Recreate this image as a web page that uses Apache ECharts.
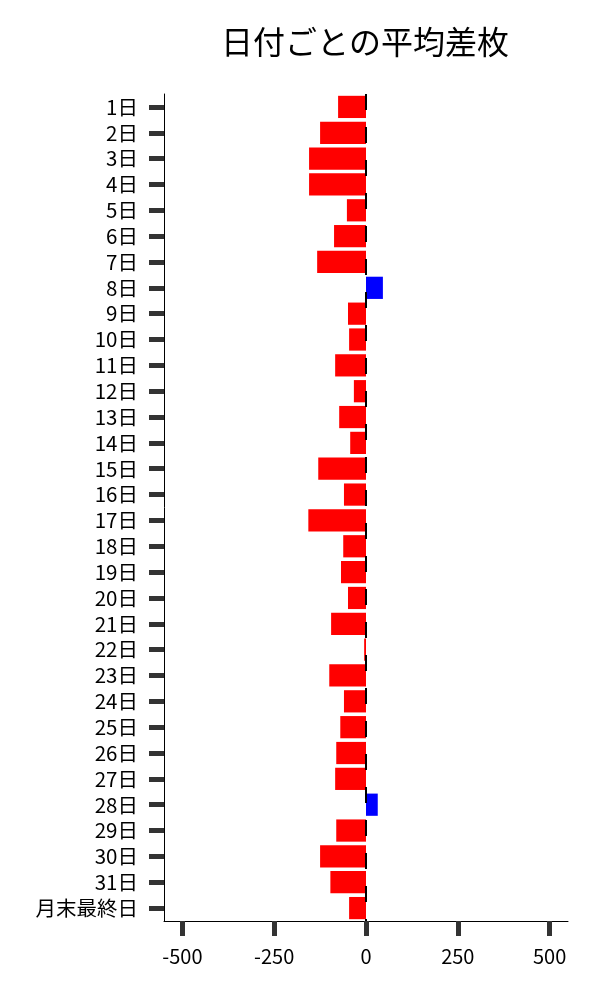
<!DOCTYPE html>
<html>
<head>
<meta charset="utf-8">
<script src="https://cdn.jsdelivr.net/npm/echarts@6/dist/echarts.min.js"></script>
<style>
html,body{margin:0;padding:0;background:#fff;}
#chart{width:600px;height:1000px;}
</style>
</head>
<body>
<div id="chart"></div>
<script>
const titleText = '日付ごとの平均差枚';
const categories = ['1日','2日','3日','4日','5日','6日','7日','8日','9日','10日','11日','12日','13日','14日','15日','16日','17日','18日','19日','20日','21日','22日','23日','24日','25日','26日','27日','28日','29日','30日','31日','月末最終日'];
const avgDiff = [-76,-125,-155,-155,-52,-87,-133,46,-49,-46,-84,-33,-73,-43,-130,-60,-157,-62,-68,-49,-95,-5,-100,-60,-70,-81,-84,32,-81,-125,-97,-46];
const xTicks = [-500,-250,0,250,500];

const FONT = '"Noto Sans CJK JP", "Noto Sans", sans-serif';
const chart = echarts.init(document.getElementById('chart'), null, {renderer:'canvas'});
chart.setOption({
  animation:false,
  backgroundColor:'#ffffff',
  title:{
    text:titleText, left:360, top:21, textAlign:'center',
    textStyle:{fontFamily:FONT, fontSize:32, fontWeight:'normal', color:'#000'}
  },
  grid:{left:164, right:32, top:94, bottom:79, containLabel:false},
  xAxis:{
    type:'value', min:-550, max:550,
    splitLine:{show:false},
    axisLine:{show:true, onZero:false, lineStyle:{color:'#000', width:1}},
    axisTick:{show:true, customValues:xTicks, length:15, lineStyle:{color:'#333', width:5}},
    axisLabel:{customValues:xTicks, margin:25, fontFamily:FONT, fontSize:20, color:'#000'}
  },
  yAxis:{
    type:'category', data:categories, inverse:true,
    axisLine:{show:true, onZero:false, lineStyle:{color:'#000', width:1}},
    axisTick:{show:true, alignWithLabel:true, interval:0, length:15, lineStyle:{color:'#333', width:5}},
    axisLabel:{interval:0, margin:26, fontFamily:FONT, fontSize:20.5, color:'#000'},
    splitLine:{show:false}
  },
  series:[{
    type:'bar',
    data:avgDiff.map(v=>({value:v, itemStyle:{color: v>=0 ? '#0000ff' : '#ff0000'}})),
    barCategoryGap:'14%',
    markLine:{
      silent:true, symbol:'none', label:{show:false},
      lineStyle:{color:'#000', width:2, type:[16,17]},
      data:[{xAxis:0}]
    }
  }]
});
</script>
</body>
</html>
